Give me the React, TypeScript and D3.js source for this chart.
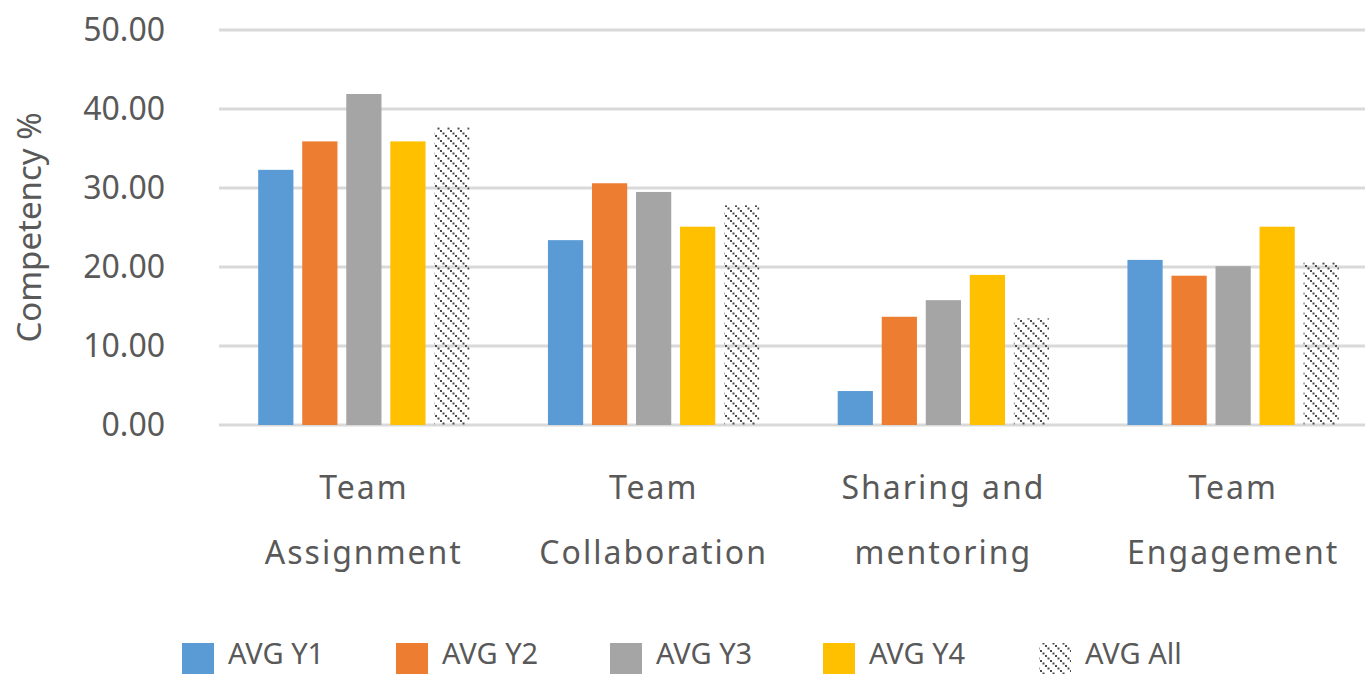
import * as d3 from 'd3'
import { useEffect, useRef } from 'react'

const categories = ['Team Assignment', 'Team Collaboration', 'Sharing and mentoring', 'Team Engagement']
const categoryLines = [
  ['Team', 'Assignment'],
  ['Team', 'Collaboration'],
  ['Sharing and', 'mentoring'],
  ['Team', 'Engagement'],
]
const series = ['AVG Y1', 'AVG Y2', 'AVG Y3', 'AVG Y4', 'AVG All']
const colors = ['#5b9bd5', '#ed7d31', '#a5a5a5', '#ffc000', 'url(#hatch)']

const avgY1 = [32.3, 23.4, 4.3, 20.9]
const avgY2 = [35.9, 30.6, 13.7, 18.9]
const avgY3 = [41.9, 29.5, 15.8, 20.1]
const avgY4 = [35.9, 25.1, 19.0, 25.1]
const avgAll = [37.7, 27.8, 13.5, 20.6]
const values = [avgY1, avgY2, avgY3, avgY4, avgAll]

const yTicks = [0, 10, 20, 30, 40, 50]

const width = 1365
const height = 675
const marginTop = 30
const marginBottom = 250
const marginLeft = 219
const plotRight = 1378

const textColor = '#595959'
const font = '"Noto Sans", "Open Sans", sans-serif'

export default function App() {
  const x0 = d3.scaleBand(categories, [marginLeft, plotRight])
  const x1 = d3
    .scaleBand(series, [0, x0.bandwidth()])
    .paddingInner(0.2)
    .paddingOuter(0.89)
  const y = d3.scaleLinear([0, 50], [height - marginBottom, marginTop])

  const bars = useRef<SVGGElement>(null)

  useEffect(() => {
    const rows = categories.flatMap((c, i) =>
      series.map((s, j) => ({ c, s, j, v: values[j][i] }))
    )
    d3.select(bars.current)
      .selectAll('rect')
      .data(rows)
      .join('rect')
      .attr('x', (d) => (x0(d.c) ?? 0) + (x1(d.s) ?? 0))
      .attr('width', x1.bandwidth())
      .attr('y', (d) => y(d.v))
      .attr('height', (d) => y(0) - y(d.v))
      .attr('fill', (d) => colors[d.j])
  }, [])

  return (
    <svg width={width} height={height} style={{ position: 'absolute', left: 0, top: 0, background: '#fff' }}>
      <defs>
        {/* dotted diagonal hatch for AVG All */}
        <pattern id="hatch" patternUnits="userSpaceOnUse" width="10" height="10">
          {[0, 2.5, 5, 7.5].map((p) => (
            <rect key={p} x={p} y={p} width="2" height="2" fill="#4a4a4a" />
          ))}
        </pattern>
      </defs>
      <g>
        {yTicks.map((t) => (
          <g key={t}>
            <line x1={marginLeft} x2={width} y1={y(t)} y2={y(t)} stroke="#d9d9d9" strokeWidth={3} />
            <text
              x={165}
              y={y(t)}
              dy="0.35em"
              textAnchor="end"
              fontSize={32}
              fontFamily={font}
              fill={textColor}
            >
              {t.toFixed(2)}
            </text>
          </g>
        ))}
      </g>
      <g ref={bars} />
      <text
        transform={`translate(41,${(y(0) + y(50)) / 2}) rotate(-90)`}
        textAnchor="middle"
        fontSize={33}
        fontFamily={font}
        fill={textColor}
      >
        Competency %
      </text>
      {categories.map((c, i) => (
        <text
          key={c}
          x={(x0(c) ?? 0) + x0.bandwidth() / 2}
          textAnchor="middle"
          fontSize={32}
          fontFamily={font}
          fill={textColor}
          letterSpacing={2}
        >
          <tspan x={(x0(c) ?? 0) + x0.bandwidth() / 2} y={499}>
            {categoryLines[i][0]}
          </tspan>
          <tspan x={(x0(c) ?? 0) + x0.bandwidth() / 2} y={564}>
            {categoryLines[i][1]}
          </tspan>
        </text>
      ))}
      <g>
        {series.map((s, j) => {
          const lx = [182, 396, 610, 823, 1039][j]
          return (
            <g key={s}>
              <rect x={lx} y={643} width={32} height={31} fill={colors[j]} />
              <text x={lx + 46} y={664} fontSize={29} fontFamily={font} fill={textColor}>
                {s}
              </text>
            </g>
          )
        })}
      </g>
    </svg>
  )
}
